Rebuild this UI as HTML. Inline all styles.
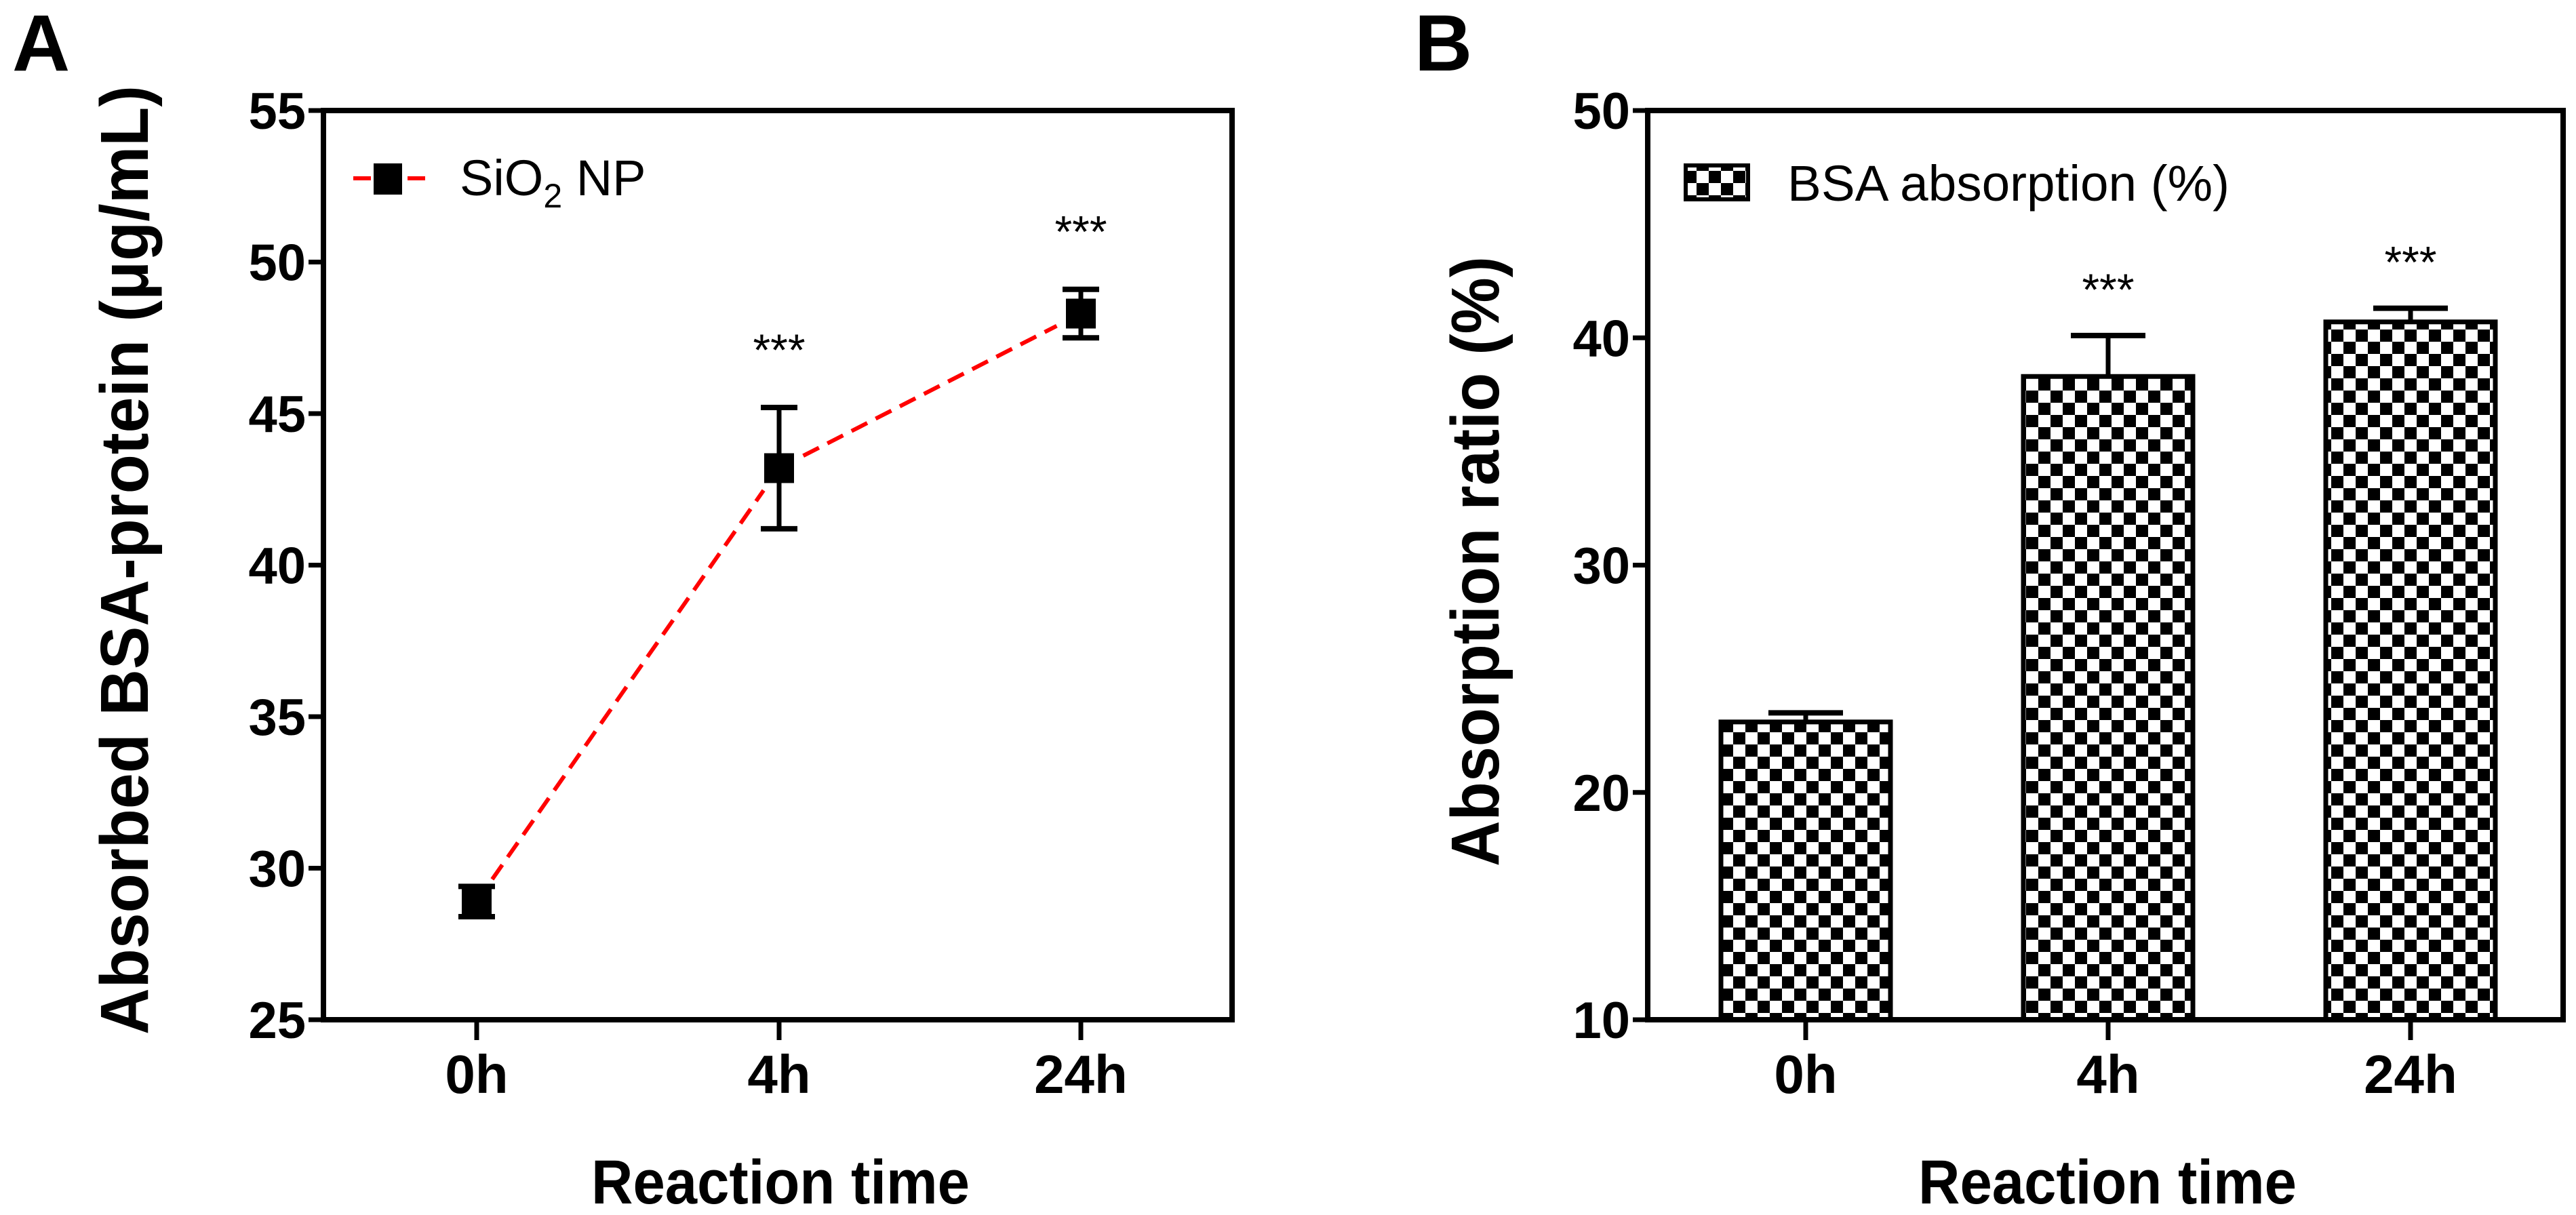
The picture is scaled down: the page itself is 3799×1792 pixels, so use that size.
<!DOCTYPE html>
<html><head><meta charset="utf-8"><style>
html,body{margin:0;padding:0;background:#fff;}
svg{display:block;}
text{font-family:"Liberation Sans",Arial,sans-serif;fill:#000;}
</style></head><body>
<svg id="fig" width="3799" height="1792" viewBox="0 0 3799 1792" xmlns="http://www.w3.org/2000/svg">
<defs>
<pattern id="chk" x="0" y="0" width="36" height="36" patternUnits="userSpaceOnUse">
<rect x="0" y="0" width="36" height="36" fill="#fff"/>
<rect x="0" y="0" width="18" height="18" fill="#000"/>
<rect x="18" y="18" width="18" height="18" fill="#000"/>
</pattern>
</defs>
<g id="panelA"></g>
<g id="panelB"></g>
</svg>
<script>
const categories = ["0h", "4h", "24h"];
const aValues = [28.9, 43.2, 48.3];
const aErrors = [0.5, 2.0, 0.8];
const aTicks = [25, 30, 35, 40, 45, 50, 55];
const aSig = ["", "***", "***"];
const bValues = [23.1, 38.3, 40.7];
const bErrors = [0.4, 1.8, 0.6];
const bTicks = [10, 20, 30, 40, 50];
const bSig = ["", "***", "***"];

const NS = "http://www.w3.org/2000/svg";
function mk(parent, tag, attrs, txt) {
  const e = document.createElementNS(NS, tag);
  for (const k in attrs) e.setAttribute(k, attrs[k]);
  if (txt !== undefined) e.textContent = txt;
  parent.appendChild(e);
  return e;
}
const yTop = 163, yBot = 1504;

// ---------- Panel A ----------
const A = document.getElementById('panelA');
const aL = 477, aR = 1817, aMin = 25, aMax = 55;
const aX = i => [703, 1149, 1594][i];
function aY(v) { return yBot - (v - aMin) / (aMax - aMin) * (yBot - yTop); }

let t = mk(A, 'text', {x: 18, y: 104, 'font-size': 118, 'font-weight': 'bold'}, 'A');



for (let i = 0; i < aValues.length - 1; i++) {
  const x1 = aX(i), y1 = aY(aValues[i]), x2 = aX(i + 1), y2 = aY(aValues[i + 1]);
  const dx = x2 - x1, dy = y2 - y1, L = Math.hypot(dx, dy);
  const g1 = 40, g2 = 40;
  const l = mk(A, 'line', {x1: x1 + dx / L * g1, y1: y1 + dy / L * g1, x2: x2 - dx / L * g2, y2: y2 - dy / L * g2,
    stroke: '#f00', 'stroke-width': 6, 'stroke-dasharray': '26 14'});
  
  
}
aValues.forEach((v, i) => {
  const x = aX(i), e = aErrors[i];
  const g = mk(A, 'g', {});
  
  
  mk(g, 'line', {x1: x, x2: x, y1: aY(v + e), y2: aY(v - e), stroke: '#000', 'stroke-width': 7});
  mk(g, 'line', {x1: x - 27, x2: x + 27, y1: aY(v + e), y2: aY(v + e), stroke: '#000', 'stroke-width': 8});
  mk(g, 'line', {x1: x - 27, x2: x + 27, y1: aY(v - e), y2: aY(v - e), stroke: '#000', 'stroke-width': 8});
  mk(g, 'rect', {x: x - 22, y: aY(v) - 22, width: 44, height: 44, fill: '#000'});
  if (aSig[i]) {
    const s = mk(A, 'text', {x: x, y: aY(v + e) - 62, 'font-size': 66, 'text-anchor': 'middle'}, aSig[i]);
    
    
  }
});
let ax = mk(A, 'rect', {x: aL, y: yTop, width: aR - aL, height: yBot - yTop, fill: 'none', stroke: '#000', 'stroke-width': 8});


aTicks.forEach(v => {
  const y = aY(v);
  mk(A, 'line', {x1: aL - 22, x2: aL, y1: y, y2: y, stroke: '#000', 'stroke-width': 7});
  const tl = mk(A, 'text', {x: aL - 26, y: y + 27, 'font-size': 76, 'font-weight': 'bold', 'text-anchor': 'end'}, String(v));
  
  
});
categories.forEach((c, i) => {
  const x = aX(i);
  mk(A, 'line', {x1: x, x2: x, y1: yBot, y2: yBot + 30, stroke: '#000', 'stroke-width': 7});
  const tl = mk(A, 'text', {x: x, y: yBot + 108, 'font-size': 80, 'font-weight': 'bold', 'text-anchor': 'middle'}, c);
  
  
});
t = mk(A, 'text', {x: 1151, y: 1775, 'font-size': 92, 'font-weight': 'bold', 'text-anchor': 'middle', textLength: 558, lengthAdjust: 'spacingAndGlyphs'}, 'Reaction time');


t = mk(A, 'text', {x: 0, y: 0, 'font-size': 100, 'font-weight': 'bold', 'text-anchor': 'middle', textLength: 1400, lengthAdjust: 'spacingAndGlyphs', transform: 'translate(218,826) rotate(-90)'}, 'Absorbed BSA-protein (μg/mL)');


const lg = mk(A, 'g', {});


mk(lg, 'line', {x1: 521, x2: 628, y1: 263, y2: 263, stroke: '#f00', 'stroke-width': 6, 'stroke-dasharray': '26 14'});
mk(lg, 'rect', {x: 551, y: 241, width: 42, height: 46, fill: '#000'});
const lt = mk(lg, 'text', {x: 678, y: 288, 'font-size': 74}, 'SiO');
mk(lt, 'tspan', {'font-size': 50, dy: 18}, '2');
mk(lt, 'tspan', {dy: -18}, ' NP');

// ---------- Panel B ----------
const B = document.getElementById('panelB');
const bL = 2430, bR = 3780, bMin = 10, bMax = 50, bw = 250;
const bX = i => [2663, 3109, 3555][i];
function bY(v) { return yBot - (v - bMin) / (bMax - bMin) * (yBot - yTop); }

t = mk(B, 'text', {x: 2086, y: 104, 'font-size': 118, 'font-weight': 'bold'}, 'B');



bValues.forEach((v, i) => {
  const x = bX(i), e = bErrors[i];
  const r = mk(B, 'rect', {x: x - bw / 2, y: bY(v), width: bw, height: yBot - bY(v), fill: 'url(#chk)', stroke: '#000', 'stroke-width': 7});
  
  
  const eb = mk(B, 'g', {});
  
  
  mk(eb, 'line', {x1: x, x2: x, y1: bY(v + e), y2: bY(v), stroke: '#000', 'stroke-width': 7});
  mk(eb, 'line', {x1: x - 55, x2: x + 55, y1: bY(v + e), y2: bY(v + e), stroke: '#000', 'stroke-width': 8});
  if (bSig[i]) {
    const s = mk(B, 'text', {x: x, y: bY(v + e) - 45, 'font-size': 66, 'text-anchor': 'middle'}, bSig[i]);
    
    
  }
});
ax = mk(B, 'rect', {x: bL, y: yTop, width: bR - bL, height: yBot - yTop, fill: 'none', stroke: '#000', 'stroke-width': 8});


bTicks.forEach(v => {
  const y = bY(v);
  mk(B, 'line', {x1: bL - 22, x2: bL, y1: y, y2: y, stroke: '#000', 'stroke-width': 7});
  const tl = mk(B, 'text', {x: bL - 26, y: y + 27, 'font-size': 76, 'font-weight': 'bold', 'text-anchor': 'end'}, String(v));
  
  
});
categories.forEach((c, i) => {
  const x = bX(i);
  mk(B, 'line', {x1: x, x2: x, y1: yBot, y2: yBot + 30, stroke: '#000', 'stroke-width': 7});
  const tl = mk(B, 'text', {x: x, y: yBot + 108, 'font-size': 80, 'font-weight': 'bold', 'text-anchor': 'middle'}, c);
  
  
});
t = mk(B, 'text', {x: 3108, y: 1775, 'font-size': 92, 'font-weight': 'bold', 'text-anchor': 'middle', textLength: 558, lengthAdjust: 'spacingAndGlyphs'}, 'Reaction time');


t = mk(B, 'text', {x: 0, y: 0, 'font-size': 100, 'font-weight': 'bold', 'text-anchor': 'middle', textLength: 900, lengthAdjust: 'spacingAndGlyphs', transform: 'translate(2210,828) rotate(-90)'}, 'Absorption ratio (%)');


const lb = mk(B, 'g', {});


mk(lb, 'rect', {x: 2486, y: 244, width: 92, height: 50, fill: 'url(#chk)', stroke: '#000', 'stroke-width': 6});
mk(lb, 'text', {x: 2636, y: 296, 'font-size': 74, textLength: 652, lengthAdjust: 'spacingAndGlyphs'}, 'BSA absorption (%)');
</script>
</body></html>
